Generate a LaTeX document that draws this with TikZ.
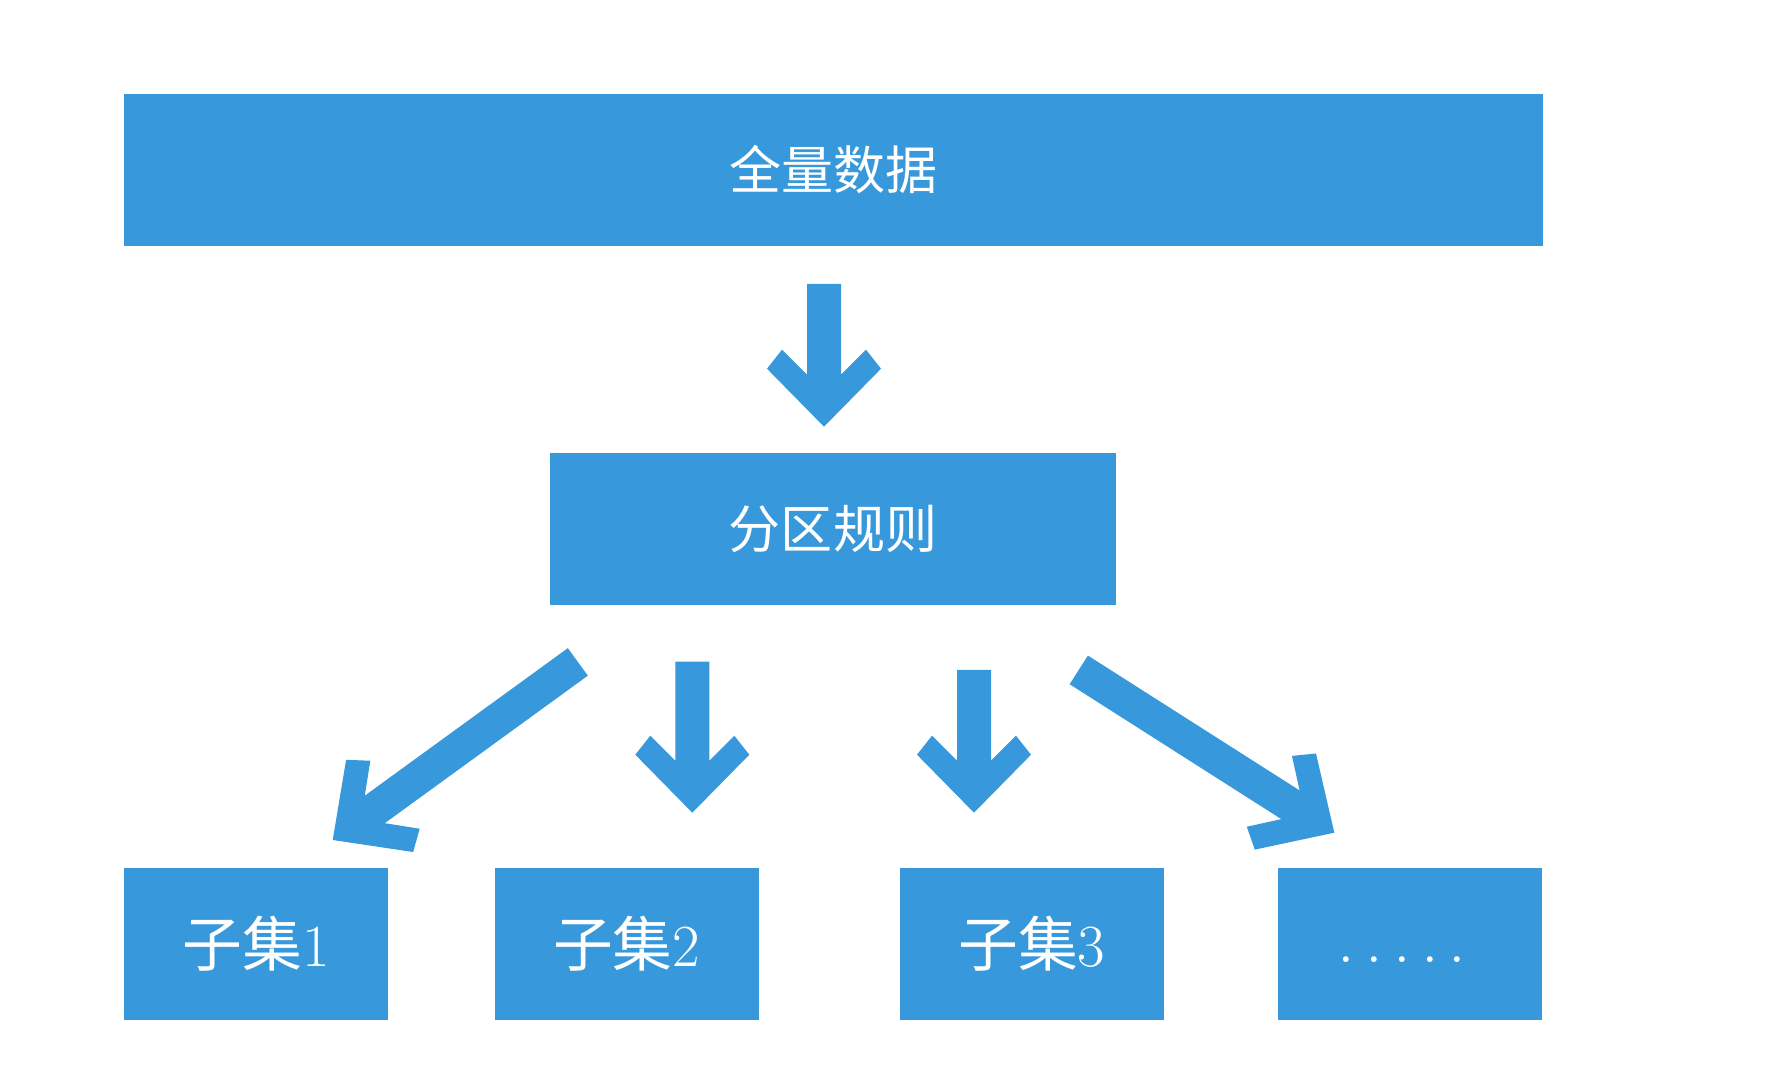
\documentclass[tikz,border=0pt]{standalone}
\usepackage{fontspec}
\newfontfamily\cjk{Noto Sans CJK SC}
\definecolor{boxblue}{RGB}{55,152,219}
\tikzset{
    box/.style={fill=boxblue, inner sep=0pt, text=white, font=\cjk\fontsize{14.8}{17}\selectfont, text height=12.4pt, text depth=1.2pt},
    subbox/.style={box, minimum width=2.64cm, minimum height=1.52cm, font=\cjk\fontsize{17}{20}\selectfont, text height=14.3pt, text depth=1.4pt},
    pics/blockarrow/.style={code={
        \fill[boxblue] (0,0) -- (57,58) -- (42,77) -- (17,52) -- (17,#1) -- (-17,#1) -- (-17,52) -- (-42,77) -- (-57,58) -- cycle;
    }},
}
\begin{document}
\begin{tikzpicture}[x=0.01cm, y=0.01cm]
        \useasboundingbox (0,0) rectangle (1775,1066);

        \node[box, minimum width=14.185cm, minimum height=1.516cm] (full) at (833.7,896.2) {全量数据};
        \node[box, minimum width=5.66cm, minimum height=1.515cm] (rule) at (833,537.2) {分区规则};

        % sottoinsiemi
        \node[subbox] (sub1) at (256.2,122) {子集{\rmfamily 1}};
        \node[subbox] (sub2) at (626.6,122) {子集{\rmfamily 2}};
        \node[subbox] (sub3) at (1031.8,122) {子集{\rmfamily 3}};
        \node[subbox] (more) at (1410,122) {\rmfamily\fontsize{20}{22}\selectfont\raisebox{1.1pt}{.\kern2.9pt.\kern2.9pt.\kern2.9pt.\kern2.9pt.}\kern4.4pt};

        % frecce
        \coordinate (tip0) at (824,639.3);
        \coordinate (tip1) at (332.7,226);
        \coordinate (tip2) at (692.3,253.3);
        \coordinate (tip3) at (974,253.3);
        \coordinate (tip4) at (1334.3,233.3);
        \pic at (tip0) {blockarrow=142.7};
        \pic[rotate=-54] at (tip1) {blockarrow=303};
        \pic at (tip2) {blockarrow=151};
        \pic at (tip3) {blockarrow=142.7};
        \pic[rotate=57.5] at (tip4) {blockarrow=303};
    \end{tikzpicture}
\end{document}
